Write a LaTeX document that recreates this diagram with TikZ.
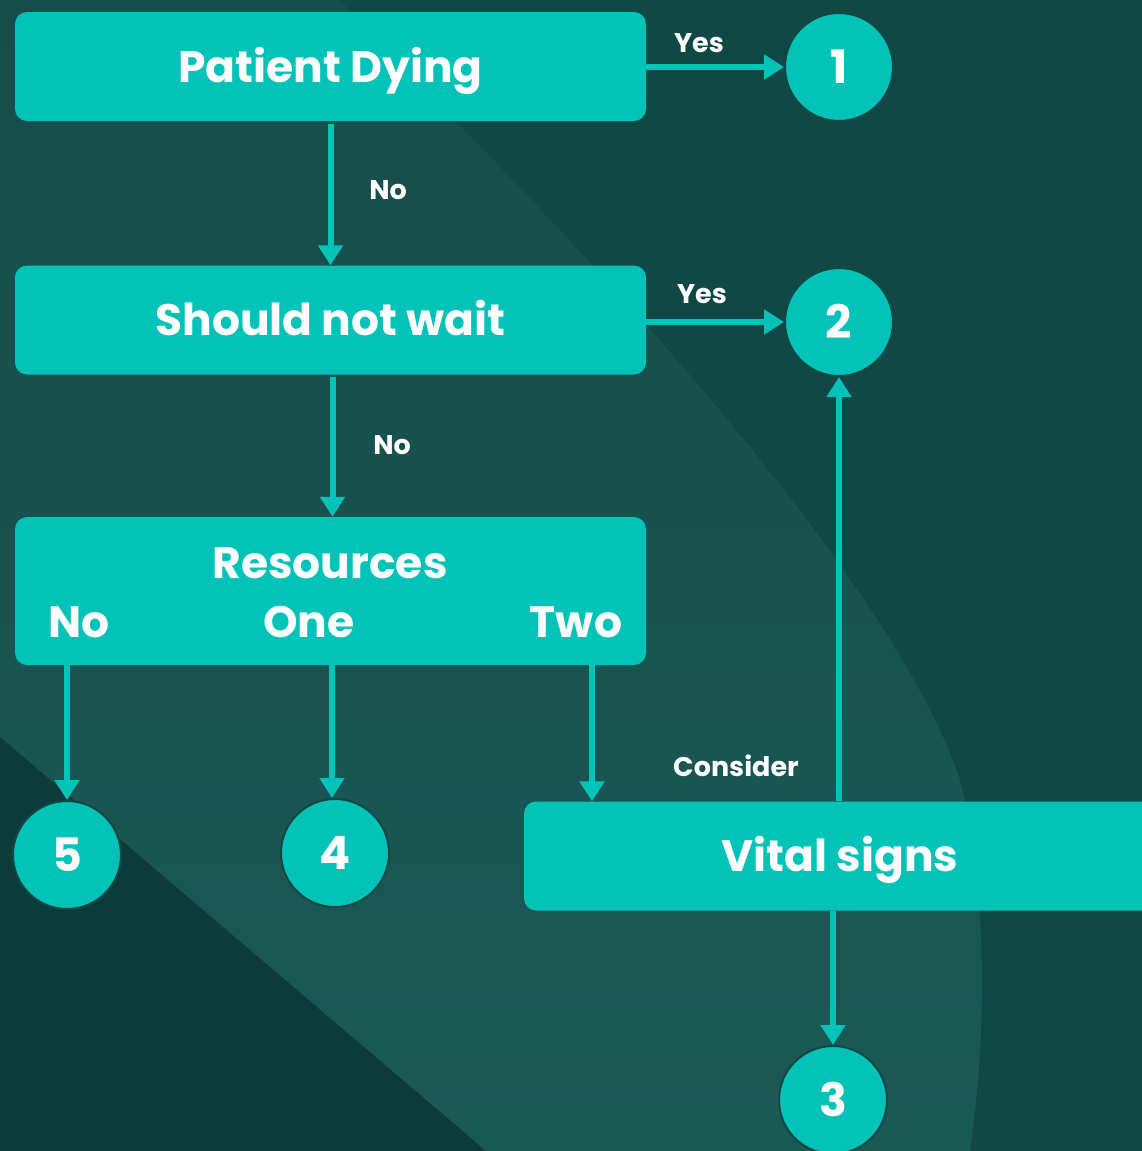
\documentclass[tikz,border=0pt]{standalone}
\usepackage{fontspec}
\setmainfont{Poppins}
\usetikzlibrary{arrows.meta}
\definecolor{bgdark}{HTML}{0F4845}
\definecolor{bgmidtop}{HTML}{154D4A}
\definecolor{bgmidbot}{HTML}{1B5955}
\definecolor{bgcorner}{HTML}{0C3C3A}
\definecolor{boxc}{HTML}{03C2B7}
\newcommand{\bigf}{\fontsize{44}{50}\selectfont\bfseries}
\newcommand{\numf}{\fontsize{46}{50}\selectfont\bfseries}
\newcommand{\smallf}{\fontsize{27}{30}\selectfont\bfseries}
\begin{document}
\begin{tikzpicture}[x=1pt,y=-1pt,
  stepbox/.style={fill=boxc, rounded corners=12pt, minimum width=631pt, minimum height=109pt,
    text=white, font=\bigf, inner sep=0pt, text height=31pt, text depth=0pt},
  numcirc/.style={circle, fill=boxc, draw=bgdark, line width=2pt, minimum size=108pt,
    text=white, font=\numf, inner sep=0pt, text height=32pt, text depth=0pt},
  lab/.style={text=white, font=\smallf, inner sep=0pt, text height=19pt, text depth=0pt},
  inlab/.style={text=white, font=\bigf, inner sep=0pt, text height=31pt, text depth=0pt},
  arr/.style={line width=6pt, draw=boxc, -{Triangle[width=24pt,length=20pt]}}]
\useasboundingbox (0,0) rectangle (1142,1151);
\clip (0,0) rectangle (1142,1151);
% background
\fill[bgdark] (0,0) rectangle (1142,1151);
\shade[top color=bgmidtop, bottom color=bgmidbot]
  (0,0) -- (340,0) -- (467,133) .. controls (650,320) and (900,600) .. (960,780)
  .. controls (990,900) and (985,1050) .. (970,1151) -- (0,1151) -- cycle;
\fill[bgcorner] (0,737) -- (486,1151) -- (0,1151) -- cycle;

% nodes
\node[stepbox] (pd) at (330.5,66.5) {Patient Dying};
\node[stepbox] (snw) at (330.5,320) {Should not wait};
\node[stepbox, minimum height=148pt] (res) at (330.5,591) {};
\node[inlab] (resT) at (330,563) {Resources};
\node[inlab] (rNo) at (79,622) {No};
\node[inlab] (rOne) at (309,622) {One};
\node[inlab] (rTwo) at (576,622) {Two};
\node[stepbox, minimum width=632pt] (vs) at (840,856) {Vital signs};

\node[numcirc] (c1) at (839,67) {1};
\node[numcirc] (c2) at (839,322) {2};
\node[numcirc] (c3) at (833,1100) {3};
\node[numcirc] (c4) at (335,853) {4};
\node[numcirc] (c5) at (67,855) {5};

% connectors
\draw[arr] (pd.east |- c1) -- (c1.west);
\draw[arr] (snw.east |- c2) -- (c2.west);
\draw[arr] (pd.south) ++(0,3) -- (snw.north);
\draw[arr] (snw.south) ++(2,2) -- ([xshift=2pt]res.north);
\draw[arr] (res.south -| c5) -- (c5.north);
\draw[arr] ([xshift=-3pt]res.south -| c4) -- ([xshift=-3pt]c4.north);
\draw[arr] (res.south -| 592,0) -- (vs.north -| 592,0);
\draw[arr] (vs.north -| c2) -- (c2.south);
\draw[arr] (vs.south -| c3) -- (c3.north);

% labels
\node[lab] (y1) at (699,43) {Yes};
\node[lab] (y2) at (702,294) {Yes};
\node[lab] (n1) at (388,190) {No};
\node[lab] (n2) at (392,445) {No};
\node[lab] (cons) at (736,767) {Consider};
\end{tikzpicture}
\end{document}
